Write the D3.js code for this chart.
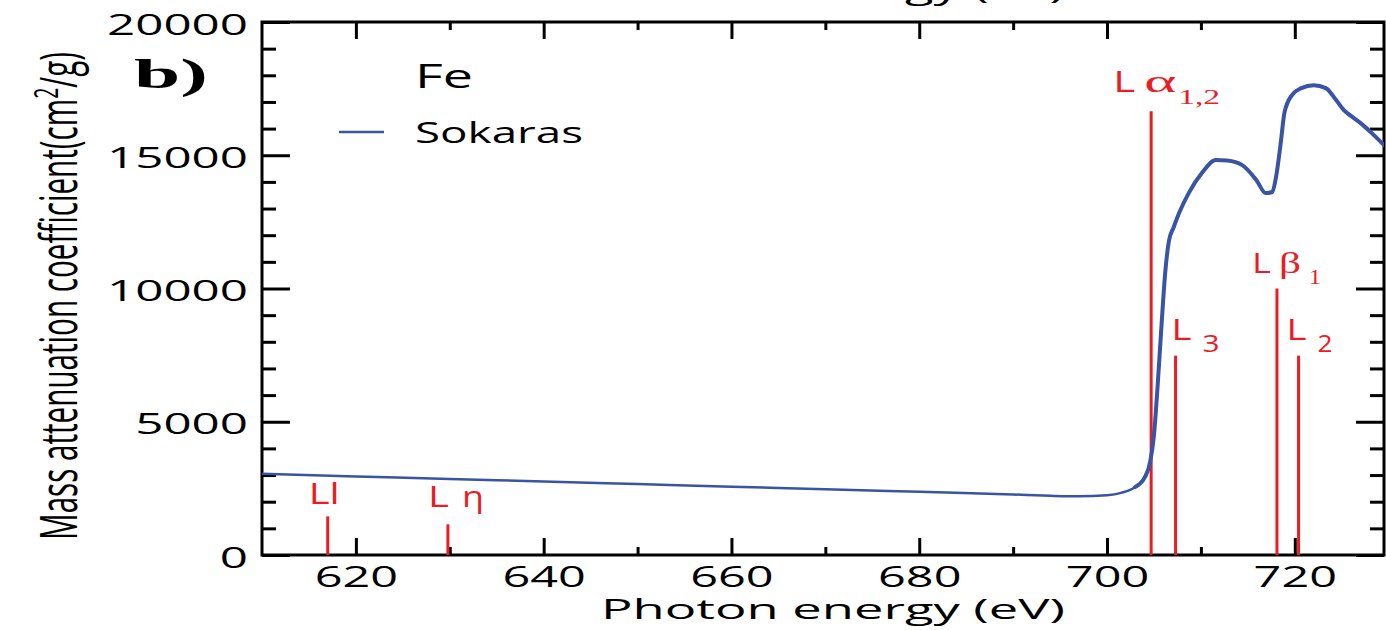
<!DOCTYPE html>
<html>
<head>
<meta charset="utf-8">
<script src="https://cdn.jsdelivr.net/npm/d3@7"></script>
<style>
  body { margin: 0; background: #fff; }
  .sans { font-family: "Open Sans", sans-serif; }
  .serif { font-family: "Liberation Serif", serif; }
</style>
</head>
<body>
<svg id="grafico" width="1386" height="630"></svg>
<script>
// Datos: coeficiente de atenuacion masico del Fe (Sokaras)
var energia = [610, 620, 630, 640, 650, 660, 670, 680, 690, 694, 697, 700, 701.5, 703, 704, 704.6,
               705.0, 705.4, 705.8, 706.2, 706.6, 707.1, 707.7, 708.7, 710.1, 711.6, 712.8, 714.4,
               715.9, 716.9, 717.6, 718.0, 718.5, 718.9, 719.7, 720.7, 722.0, 723.3, 724.4, 725.2,
               726.2, 727.2, 728.2, 729.5];
var coeficiente = [3050, 2950, 2850, 2760, 2660, 2560, 2470, 2370, 2270, 2220, 2200, 2240, 2330, 2550, 2900, 3500,
                   4500, 6400, 8600, 10600, 11800, 12300, 12850, 13580, 14330, 14820, 14800, 14630,
                   14070, 13580, 13620, 14180, 15460, 16600, 17260, 17520, 17630, 17520, 17070, 16700,
                   16420, 16150, 15830, 15380];

// Lineas de emision (energia en eV y altura de la barra roja)
var lineasNombre  = ["Ll", "L\u03b7", "L\u03b11,2", "L3", "L\u03b21", "L2"];
var lineasEnergia = [617, 629.8, 704.7, 707.3, 718.1, 720.4];
var lineasAltura  = [1450, 1150, 16650, 7480, 10000, 7480];

var ticksX = [620, 640, 660, 680, 700, 720];
var ticksXmenor = [630, 650, 670, 690, 710];
var ticksY = [0, 5000, 10000, 15000, 20000];
var ticksYmenor = [1000, 2000, 3000, 4000, 6000, 7000, 8000, 9000, 11000, 12000, 13000, 14000,
                   16000, 17000, 18000, 19000];

var serieNombre = "Sokaras";
var elemento = "Fe";
var panel = "b)";
var tituloX = "Photon energy (eV)";
var tituloY = ["Mass attenuation coefficient(cm", "2", "/g)"];

var rojo = "#ec1c24", azul = "#3953a5";

var svg = d3.select("#grafico");
var izq = 262, der = 1384, arriba = 22, abajo = 555;

var x = d3.scaleLinear().domain([610, 729.5]).range([izq, der]);
var y = d3.scaleLinear().domain([0, 20000]).range([abajo, arriba]);

svg.append("defs").append("clipPath").attr("id", "area")
   .append("rect").attr("x", izq).attr("y", arriba).attr("width", der - izq).attr("height", abajo - arriba);

// Ejes: todas las marcas hacia dentro
function eje(gen, tx, ty, valores, largo, conTexto, ancho) {
  var g = svg.append("g")
     .attr("transform", "translate(" + tx + "," + ty + ")")
     .call(gen.tickValues(valores).tickSizeInner(-largo).tickSizeOuter(0)
              .tickPadding(conTexto ? 14 : 0).tickFormat(conTexto ? d3.format("d") : ""));
  g.select(".domain").remove();
  g.selectAll(".tick line").attr("stroke", "#000").attr("stroke-width", 3);
  g.selectAll(".tick text")
   .attr("class", "sans").attr("fill", "#000").attr("font-size", 30)
   .attr("lengthAdjust", "spacingAndGlyphs")
   .attr("textLength", function(d) { return String(d).length * ancho; });
  return g;
}
var gx = eje(d3.axisBottom(x), 0, abajo, ticksX, 17, true, 27.8);
gx.selectAll(".tick text").attr("y", 11);
eje(d3.axisBottom(x), 0, abajo, ticksXmenor, 8, false);
eje(d3.axisTop(x), 0, arriba, ticksX, 17, false);
eje(d3.axisTop(x), 0, arriba, ticksXmenor, 8, false);
var gy = eje(d3.axisLeft(y), izq, 0, ticksY, 28, true, 28.2);
gy.selectAll(".tick text").attr("dy", "0.40em");
eje(d3.axisLeft(y), izq, 0, ticksYmenor, 14, false);
eje(d3.axisRight(y), der, 0, ticksY, 28, false);
eje(d3.axisRight(y), der, 0, ticksYmenor, 14, false);

// Marco
svg.append("rect")
   .attr("x", izq).attr("y", arriba).attr("width", der - izq).attr("height", abajo - arriba)
   .attr("fill", "none").attr("stroke", "#000").attr("stroke-width", 3);

// Lineas rojas de emision
var lineas = lineasNombre.map(function(n, i) {
  return { nombre: n, e: lineasEnergia[i], h: lineasAltura[i] };
});
svg.append("g").selectAll("line").data(lineas).enter().append("line")
   .attr("x1", function(d) { return x(d.e); }).attr("x2", function(d) { return x(d.e); })
   .attr("y1", y(0)).attr("y2", function(d) { return y(d.h); })
   .attr("stroke", rojo).attr("stroke-width", 3);

// Etiquetas de las lineas: trozos [texto, fuente, tamano, dx, dy, ancho] respecto a la punta
var trozos = {
  "Ll":          [["Ll", "sans", 29, -19, -12, 31]],
  "L\u03b7":     [["L", "sans", 29, -20, -17, 21], ["\u03b7", "sans", 30, 14, -17, 22]],
  "L\u03b11,2":  [["L", "sans", 29, -38, -19, 22], ["\u03b1", "serif", 32, -7, -19, 32], ["1,2", "serif", 20, 27, -7, 42]],
  "L3":          [["L", "sans", 29, -4, -16, 20], ["3", "sans", 23, 27, -4, 17]],
  "L\u03b21":    [["L", "sans", 27, -25, -16, 19], ["\u03b2", "serif", 30, 2, -16, 22], ["1", "serif", 20, 32, -5, 12]],
  "L2":          [["L", "sans", 29, -12, -16, 20], ["2", "sans", 23, 19, -4, 15]]
};
lineas.forEach(function(d) {
  trozos[d.nombre].forEach(function(t) {
    svg.append("text").attr("class", t[1])
       .attr("x", x(d.e) + t[3]).attr("y", y(d.h) + t[4])
       .attr("font-size", t[2]).attr("fill", rojo)
       .attr("textLength", t[5]).attr("lengthAdjust", "spacingAndGlyphs")
       .text(t[0]);
  });
});

// Curva azul (mas fina en la zona plana, como en la figura)
var puntos = energia.map(function(e, i) { return [e, coeficiente[i]]; });
var linea = d3.line().x(function(d) { return x(d[0]); }).y(function(d) { return y(d[1]); })
              .curve(d3.curveMonotoneX);
var curva = svg.append("g").attr("clip-path", "url(#area)");
curva.append("path").datum(puntos)
     .attr("d", linea).attr("fill", "none").attr("stroke", azul).attr("stroke-width", 2.5);
curva.append("path").datum(puntos.filter(function(d) { return d[0] >= 703; }))
     .attr("d", linea).attr("fill", "none").attr("stroke", azul).attr("stroke-width", 4)
     .attr("stroke-linejoin", "round").attr("stroke-linecap", "round");

// Leyenda y rotulos
function texto(t, clase, tam, px, py, ancho) {
  var el = svg.append("text").attr("class", clase).attr("x", px).attr("y", py)
     .attr("font-size", tam).attr("fill", "#000").text(t);
  if (ancho) el.attr("textLength", ancho).attr("lengthAdjust", "spacingAndGlyphs");
  return el;
}
texto(panel, "serif", 42, 134, 88, 74).attr("font-weight", "bold");
texto(elemento, "sans", 32, 415, 88, 58);
svg.append("line").attr("x1", 339).attr("x2", 384).attr("y1", 132).attr("y2", 132)
   .attr("stroke", azul).attr("stroke-width", 2.5);
texto(serieNombre, "sans", 30, 415, 143, 168);

texto(tituloX, "sans", 27, 601, 619, 464);
// resto del titulo del panel superior, cortado por el borde
texto(tituloX, "sans", 27, 601, -1, 464);

var ty = svg.append("text").attr("class", "sans").attr("font-size", 29).attr("fill", "#000")
   .attr("text-anchor", "middle")
   .attr("transform", "translate(77,296) scale(1.75,1) rotate(-90)")
   .attr("textLength", 488).attr("lengthAdjust", "spacingAndGlyphs");
ty.append("tspan").text(tituloY[0]);
ty.append("tspan").attr("dy", -11).attr("font-size", 19).text(tituloY[1]);
ty.append("tspan").attr("dy", 11).text(tituloY[2]);
</script>
</body>
</html>
